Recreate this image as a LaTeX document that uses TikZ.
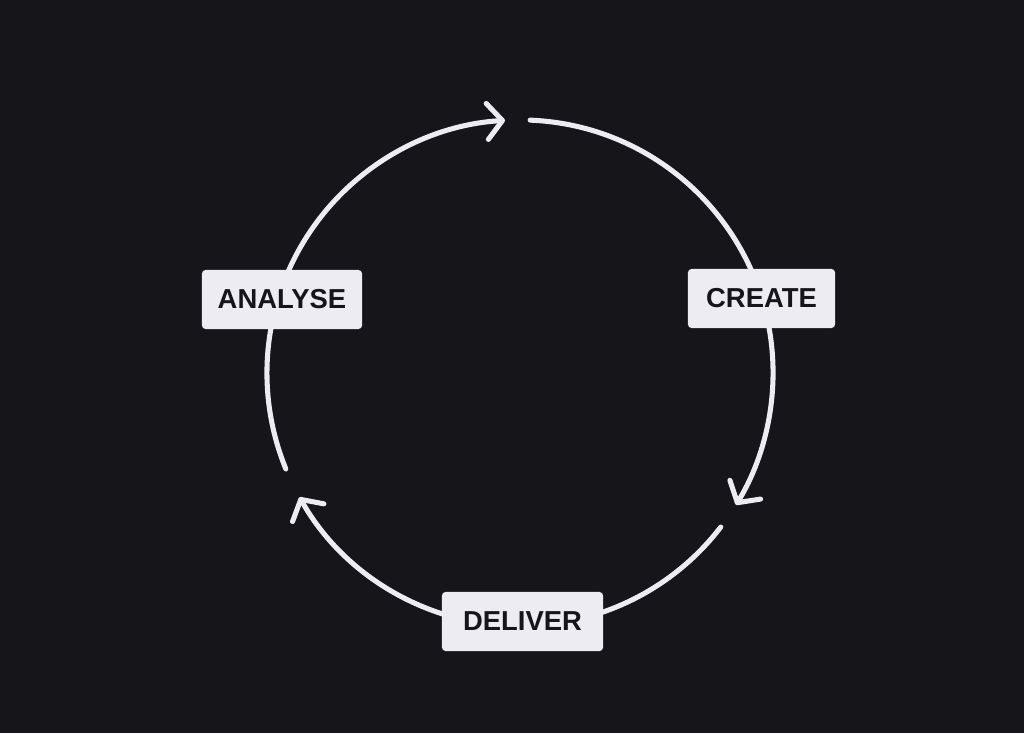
\documentclass[tikz,border=0pt]{standalone}
\usepackage{fontspec}
\newfontfamily\boxfont{Liberation Sans}
\usetikzlibrary{arrows.meta,calc}
\definecolor{bgdark}{HTML}{16151A}
\definecolor{boxlight}{HTML}{EDECF3}
\def\R{6.325cm}

\begin{document}
\begin{tikzpicture}[x=0.025cm, y=0.025cm,
		cycle/.style={line width=3.6pt, color=boxlight, line cap=round},
		tip/.style={-{Straight Barb[length=0.38cm, width=0.9cm, round]}},
		stage/.style={fill=boxlight, text=bgdark, rounded corners=2.5pt, minimum height=1.475cm, inner sep=0pt, font=\boxfont\bfseries\fontsize{19.5}{23}\selectfont}]
		%%%%% START %%%%%
		
		\fill[bgdark] (0, 0) rectangle (1024, 733);
		\useasboundingbox (0, 0) rectangle (1024, 733);
		
		\coordinate (c) at (520, 360);
		\coordinate (gapL) at ($(c)+(202.3:\R)$);
		\coordinate (gapT) at ($(c)+(87.7:\R)$);
		\coordinate (gapR) at ($(c)+(-37.5:\R)$);
		
		\draw[cycle, tip] (gapL) arc[start angle=202.3, end angle=93.4, radius=\R];
		\draw[cycle, tip] (gapT) arc[start angle=87.7, end angle=-31.4, radius=\R];
		\draw[cycle, tip] (gapR) arc[start angle=-37.5, end angle=-150.6, radius=\R];
		
		\node[stage, minimum width=4cm] (analyse) at (282, 433.5) {ANALYSE};
		\node[stage, minimum width=3.675cm] (create) at (761.5, 434.5) {CREATE};
		\node[stage, minimum width=4.025cm] (deliver) at (522.5, 111.5) {DELIVER};
		
		%%%%% END %%%%%
	\end{tikzpicture}
\end{document}
